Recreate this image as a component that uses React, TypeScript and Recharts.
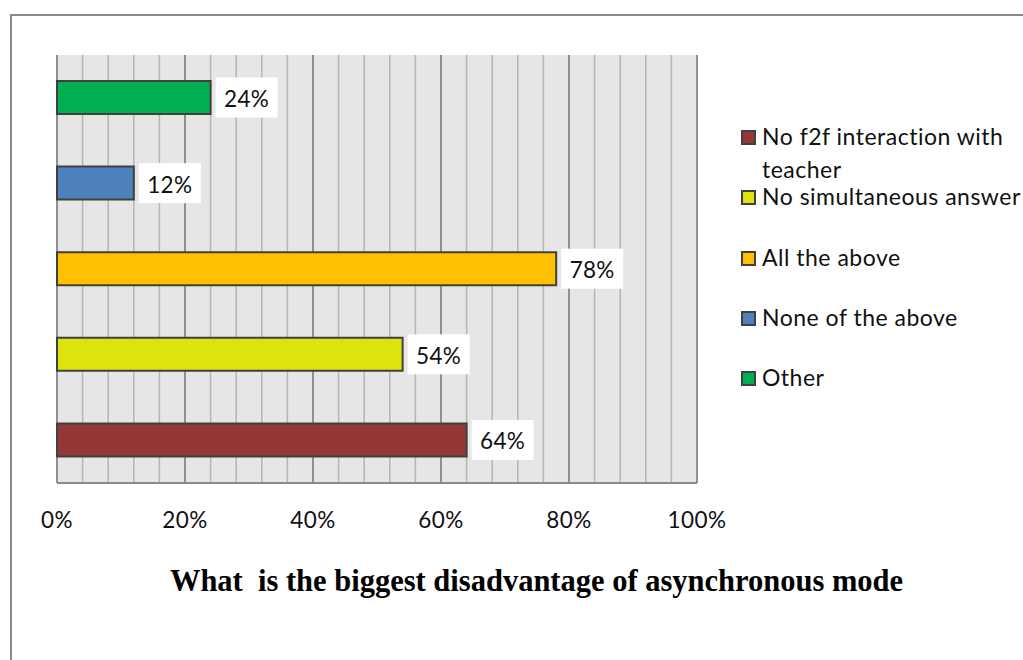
import React from "react";
import { BarChart, Bar, XAxis, YAxis, CartesianGrid, LabelList } from "recharts";

const categories = [
  "No f2f interaction with teacher",
  "No simultaneous answer",
  "All the above",
  "None of the above",
  "Other",
];
const values = [64, 54, 78, 12, 24];
const colors = ["#953735", "#dde30d", "#ffc000", "#4f81bd", "#00b050"];
const majorTicks = [0, 20, 40, 60, 80, 100];
const minorTicks = [0, 4, 8, 12, 16, 20, 24, 28, 32, 36, 40, 44, 48, 52, 56, 60, 64, 68, 72, 76, 80, 84, 88, 92, 96, 100];
const title = "What\u00a0 is the biggest disadvantage of asynchronous mode";

const seriesKeys = categories.map((_, i) => `s${i}`);
const data = categories.map((c, i) => ({ category: c, [seriesKeys[i]]: values[i] }));

const FONT = "Lato, 'Open Sans', sans-serif";
const TEXT = "#111111";

const minorGen = (props: any) => {
  const xAxis = props && props.xAxis;
  if (xAxis && typeof xAxis.scale === "function") {
    return minorTicks.map((t) => xAxis.scale(t));
  }
  const off = props.offset;
  return minorTicks.map((t) => off.left + (t / 100) * off.width);
};

const renderLabel = (props: any) => {
  const { x, y, width, height, value } = props;
  if (value === undefined || value === null) return null;
  const bx = Number(x) + Number(width) + 5;
  const cy = Number(y) + Number(height) / 2;
  return (
    <g>
      <rect x={bx} y={cy - 20} width={62} height={40} fill="#ffffff" />
      <text
        x={bx + 31}
        y={cy + 1}
        textAnchor="middle"
        dominantBaseline="central"
        fontFamily={FONT}
        fontSize={22.5}
        letterSpacing={0.3}
        fill={TEXT}
      >
        {`${value}%`}
      </text>
    </g>
  );
};

export default function App() {
  return (
    <div
      style={{
        position: "absolute",
        left: 0,
        top: 0,
        width: 1023,
        height: 660,
        overflow: "hidden",
        background: "#ffffff",
      }}
    >
      <div
        style={{
          position: "absolute",
          left: 10,
          top: 14,
          width: 1100,
          height: 700,
          border: "2px solid #8a8a8a",
        }}
      />
      <div style={{ position: "absolute", left: 0, top: 0 }}>
        <BarChart
          width={1023}
          height={660}
          data={data}
          layout="vertical"
          margin={{ top: 55, left: 57, right: 326, bottom: 147 }}
          barCategoryGap={0}
        >
          <CartesianGrid
            horizontal={false}
            stroke="#b5b5b5"
            strokeWidth={1.5}
            fill="#e6e6e6"
            verticalCoordinatesGenerator={minorGen}
          />
          <CartesianGrid horizontal={false} stroke="#7f7f7f" strokeWidth={1.5} />
          <XAxis
            type="number"
            domain={[0, 100]}
            ticks={majorTicks}
            tickFormatter={(v: number) => `${v}%`}
            tickLine={false}
            tickSize={0}
            tickMargin={29}
            axisLine={{ stroke: "#8a8a8a", strokeWidth: 2 }}
            tick={{ fontFamily: FONT, fontSize: 22.5, fill: TEXT, letterSpacing: 0.4 }}
            interval={0}
          />
          <YAxis
            type="category"
            dataKey="category"
            reversed
            width={0}
            tick={false}
            tickLine={false}
            axisLine={{ stroke: "#666666", strokeWidth: 2 }}
          />
          {seriesKeys.map((k, i) => (
            <Bar
              key={k}
              dataKey={k}
              name={categories[i]}
              stackId="a"
              fill={colors[i]}
              stroke="#404040"
              strokeWidth={2}
              barSize={33}
              isAnimationActive={false}
            >
              <LabelList dataKey={k} content={renderLabel} />
            </Bar>
          ))}
        </BarChart>
      </div>
      <div
        style={{
          position: "absolute",
          left: 741,
          top: 120,
          width: 282,
          fontFamily: FONT,
          fontSize: 23,
          letterSpacing: 0.5,
          color: TEXT,
        }}
      >
        {categories.map((c, i) => (
          <div
            key={c}
            style={{ height: 60.3, lineHeight: "33px", display: "flex", alignItems: "flex-start" }}
          >
            <span
              style={{
                display: "inline-block",
                width: 11,
                height: 11,
                background: colors[i],
                border: "2px solid #404040",
                marginTop: 10,
                marginRight: 6,
                flexShrink: 0,
              }}
            />
            <span style={{ width: 262 }}>{c}</span>
          </div>
        ))}
      </div>
      <div
        style={{
          position: "absolute",
          left: 0,
          width: 1073,
          top: 564,
          textAlign: "center",
          fontFamily: "'Liberation Serif', 'Times New Roman', serif",
          fontWeight: "bold",
          fontSize: 30.5,
          lineHeight: "35px",
          color: "#000000",
        }}
      >
        {title}
      </div>
    </div>
  );
}
